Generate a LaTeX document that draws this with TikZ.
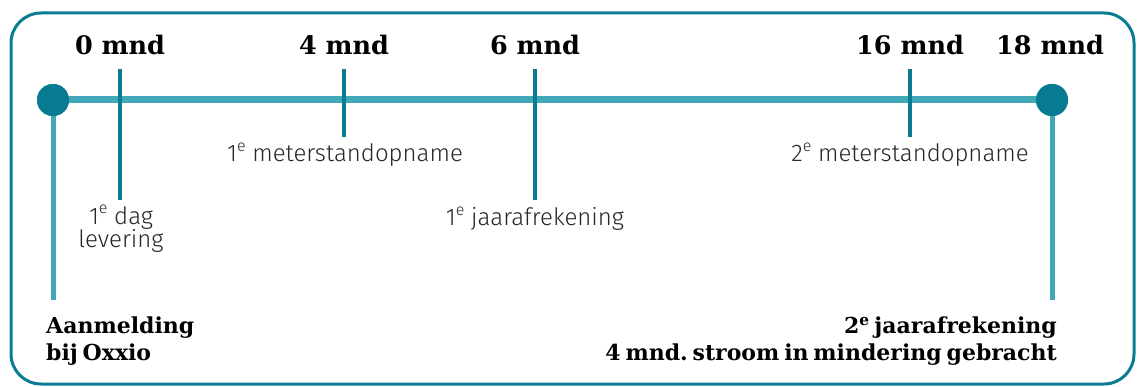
\documentclass[tikz,border=0pt]{standalone}
\usepackage{fontspec}
\setmainfont{DejaVu Serif}
\newfontfamily\smallsans{Fira Sans Light}
\definecolor{framec}{HTML}{0B7D93}
\definecolor{linec}{HTML}{41A7B9}
\definecolor{dotc}{HTML}{067B91}
\definecolor{tickc}{HTML}{0A7B92}
\definecolor{txtc}{HTML}{262626}
\newcommand{\supe}[1]{\raisebox{0.42em}{\fontsize{16}{16}\selectfont #1}}
\newcommand{\tightspace}{\spaceskip=0.22em plus 0.05em\relax}
\begin{document}
\frenchspacing
\begin{tikzpicture}[x=1pt,y=-1pt,
  month/.style={font=\fontsize{25.5}{27}\selectfont\bfseries, anchor=base, inner sep=0pt},
  event/.style={font=\smallsans\fontsize{24}{21}\selectfont, text=txtc, anchor=base, inner sep=0pt, align=center},
  endlabel/.style={font=\fontsize{22}{27}\selectfont\bfseries\tightspace, inner sep=0pt},
  dot/.style={circle, fill=dotc, minimum size=32pt, inner sep=0pt},
  mainline/.style={draw=linec, line width=7pt},
  vline/.style={draw=linec, line width=5pt},
  tick/.style={draw=tickc, line width=4pt}]
\useasboundingbox (0,0) rectangle (1140,387);
\draw[framec, line width=3pt, rounded corners=30pt] (11,13) rectangle (1134,384);
% dots
\node[dot] (d0) at (53,100) {};
\node[dot] (d18) at (1052,100) {};
\draw[mainline] (d0.center) -- (d18.center);
% month labels
\node[month] (m0) at (120,55) {0 mnd};
\node[month] (m4) at (344,55) {4 mnd};
\node[month] (m6) at (535,55) {6 mnd};
\node[month] (m16) at (910,55) {16 mnd};
\node[month] (m18) at (1050,55) {18 mnd};
% tick coordinates
\coordinate (t0a) at (120,69); \coordinate (t0b) at (120,200);
\coordinate (t4a) at (344,69); \coordinate (t4b) at (344,137);
\coordinate (t6a) at (535,69); \coordinate (t6b) at (535,200);
\coordinate (t16a) at (910,69); \coordinate (t16b) at (910,137);
\draw[tick] (t0a) -- (t0b);
\draw[tick] (t4a) -- (t4b);
\draw[tick] (t6a) -- (t6b);
\draw[tick] (t16a) -- (t16b);
% verticals
\coordinate (v0) at (53,300);
\coordinate (v18) at (1052,300);
\draw[vline] (d0.center) -- (v0);
\draw[vline] (d18.center) -- (v18);
\node[dot] at (53,100) {};
\node[dot] at (1052,100) {};
% events
\node[event] (e4) at (345,162) {1\supe{e} meterstandopname};
\node[event] (e16) at (910,162) {2\supe{e} meterstandopname};
\node[event] (e6) at (535,226) {1\supe{e} jaarafrekening};
\node[event] (e0) at (121,248) {1\supe{e} dag\\levering};
% end labels
\node[endlabel, anchor=base west, align=left] (a0) at (46,360) {Aanmelding\\bij Oxxio};
\node[endlabel, anchor=base east, align=right] (a18) at (1057,360) {2\textsuperscript{e} jaarafrekening\\4 mnd. stroom in mindering gebracht};
\end{tikzpicture}
\end{document}
